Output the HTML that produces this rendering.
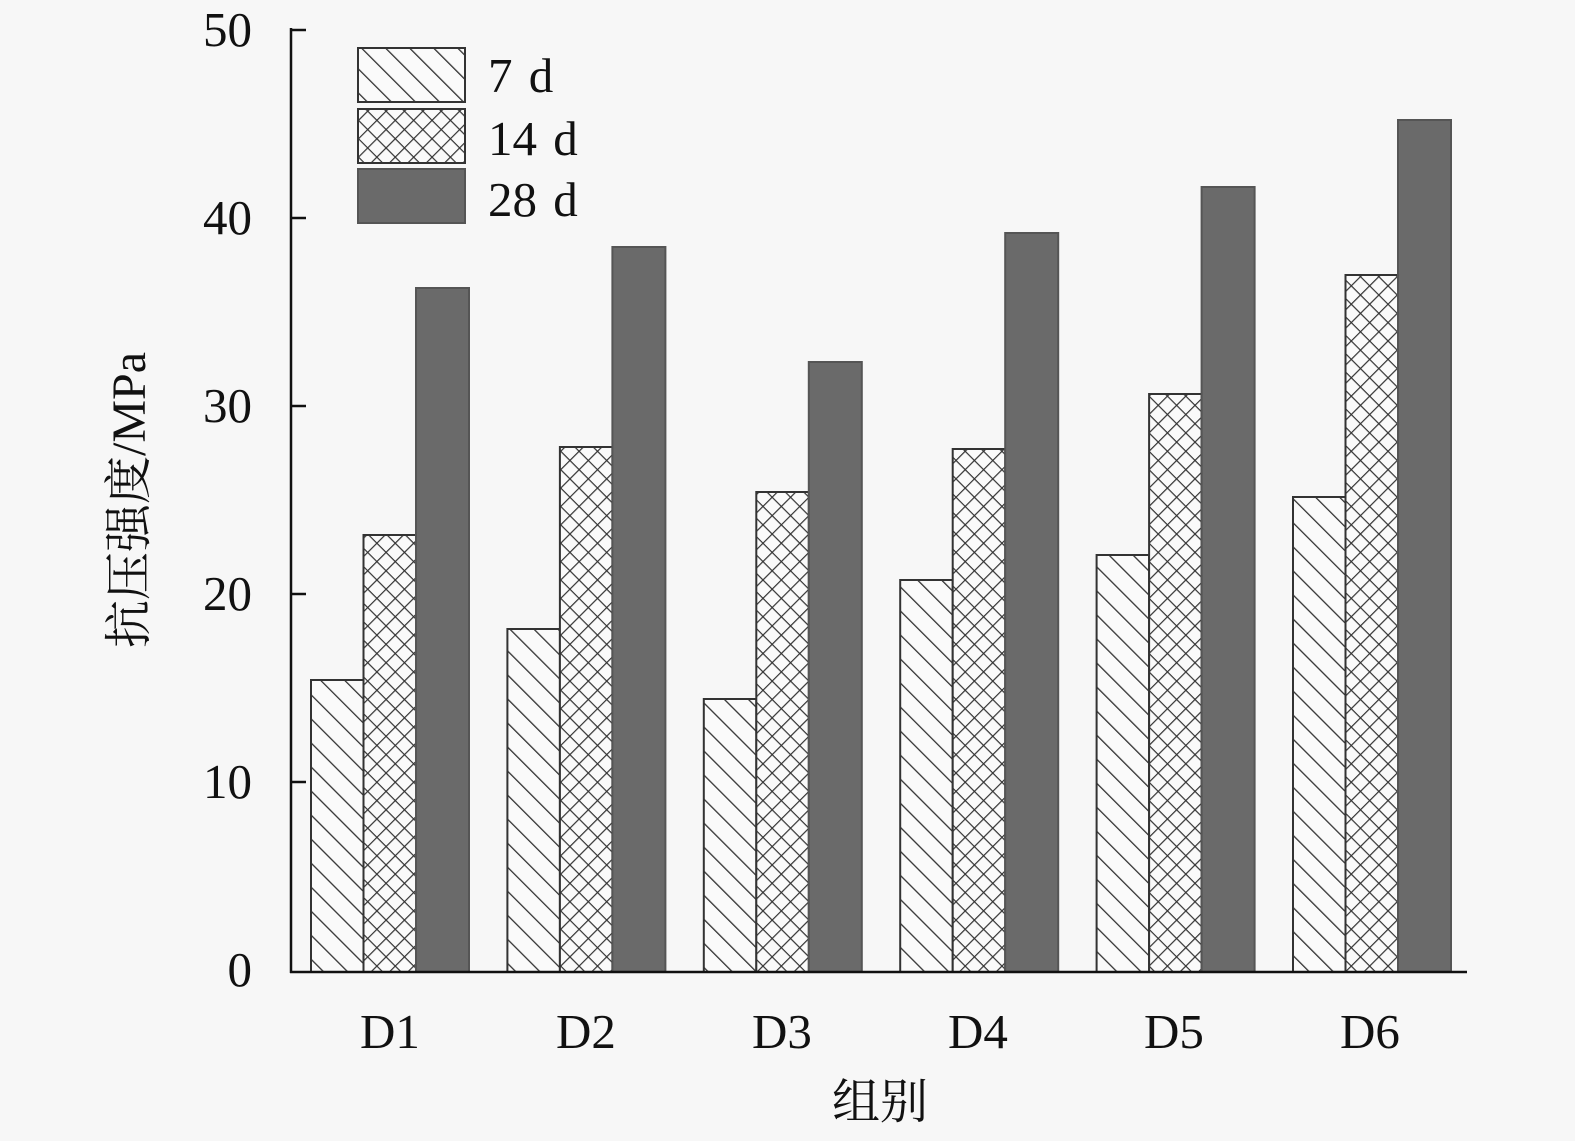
<!DOCTYPE html>
<html><head><meta charset="utf-8"><style>
html,body{margin:0;padding:0;background:#f7f7f7;}
svg{display:block;}
</style></head><body>
<svg width="1575" height="1141" viewBox="0 0 1575 1141" xmlns="http://www.w3.org/2000/svg">
<defs>
<pattern id="h7" patternUnits="userSpaceOnUse" width="17" height="17" patternTransform="rotate(-45)">
<rect width="17" height="17" fill="#fafafa"/>
<line x1="0" y1="0" x2="0" y2="17" stroke="#333" stroke-width="2.6"/>
</pattern>
<pattern id="h14" patternUnits="userSpaceOnUse" width="13" height="13" patternTransform="rotate(45)">
<rect width="13" height="13" fill="#fafafa"/>
<line x1="0" y1="0" x2="0" y2="13" stroke="#333" stroke-width="2.4"/>
<line x1="0" y1="0" x2="13" y2="0" stroke="#333" stroke-width="2.4"/>
</pattern>
</defs>
<rect width="1575" height="1141" fill="#f7f7f7"/>
<g id="bars" stroke="#333" stroke-width="2">
<rect x="311" y="680" width="52.5" height="292" fill="url(#h7)"/>
<rect x="363.5" y="535" width="52.5" height="437" fill="url(#h14)"/>
<rect x="416" y="288" width="53" height="684" fill="#6a6a6a" stroke="#555"/>

<rect x="507.4" y="629" width="52.5" height="343" fill="url(#h7)"/>
<rect x="559.9" y="447" width="52.5" height="525" fill="url(#h14)"/>
<rect x="612.4" y="247" width="53" height="725" fill="#6a6a6a" stroke="#555"/>

<rect x="703.8" y="699" width="52.5" height="273" fill="url(#h7)"/>
<rect x="756.3" y="492" width="52.5" height="480" fill="url(#h14)"/>
<rect x="808.8" y="362" width="53" height="610" fill="#6a6a6a" stroke="#555"/>

<rect x="900.2" y="580" width="52.5" height="392" fill="url(#h7)"/>
<rect x="952.7" y="449" width="52.5" height="523" fill="url(#h14)"/>
<rect x="1005.2" y="233" width="53" height="739" fill="#6a6a6a" stroke="#555"/>

<rect x="1096.6" y="555" width="52.5" height="417" fill="url(#h7)"/>
<rect x="1149.1" y="394" width="52.5" height="578" fill="url(#h14)"/>
<rect x="1201.6" y="187" width="53" height="785" fill="#6a6a6a" stroke="#555"/>

<rect x="1293" y="497" width="52.5" height="475" fill="url(#h7)"/>
<rect x="1345.5" y="275" width="52.5" height="697" fill="url(#h14)"/>
<rect x="1398" y="120" width="53" height="852" fill="#6a6a6a" stroke="#555"/>
</g>
<g stroke="#111" stroke-width="2.5">
<line x1="291" y1="28" x2="291" y2="973"/>
<line x1="290" y1="972" x2="1467" y2="972"/>
<line x1="291" y1="30" x2="306" y2="30"/>
<line x1="291" y1="218" x2="306" y2="218"/>
<line x1="291" y1="406" x2="306" y2="406"/>
<line x1="291" y1="594" x2="306" y2="594"/>
<line x1="291" y1="782" x2="306" y2="782"/>
</g>
<g font-family="Liberation Serif, serif" font-size="49" fill="#111" text-anchor="end">
<text x="252" y="46">50</text>
<text x="252" y="234">40</text>
<text x="252" y="422">30</text>
<text x="252" y="610">20</text>
<text x="252" y="798">10</text>
<text x="252" y="986">0</text>
</g>
<g font-family="Liberation Serif, serif" font-size="49" fill="#111" text-anchor="middle">
<text x="390" y="1048">D1</text>
<text x="586" y="1048">D2</text>
<text x="782" y="1048">D3</text>
<text x="978" y="1048">D4</text>
<text x="1174" y="1048">D5</text>
<text x="1370" y="1048">D6</text>
</g>
<text x="880" y="1118" text-anchor="middle" font-family="Liberation Serif, 'Noto Serif CJK SC', serif" font-size="48" fill="#111">组别</text>
<text transform="translate(145,500) rotate(-90)" text-anchor="middle" font-family="Liberation Serif, 'Noto Serif CJK SC', serif" font-size="48" fill="#111">抗压强度/MPa</text>
<g stroke="#333" stroke-width="2">
<rect x="358" y="48" width="107" height="54" fill="url(#h7)"/>
<rect x="358" y="109" width="107" height="54" fill="url(#h14)"/>
<rect x="358" y="169" width="107" height="54" fill="#6a6a6a" stroke="#555"/>
</g>
<g font-family="Liberation Serif, serif" font-size="49" fill="#111" word-spacing="4">
<text x="488" y="92">7 d</text>
<text x="488" y="155">14 d</text>
<text x="488" y="216">28 d</text>
</g>
</svg>
</body></html>
